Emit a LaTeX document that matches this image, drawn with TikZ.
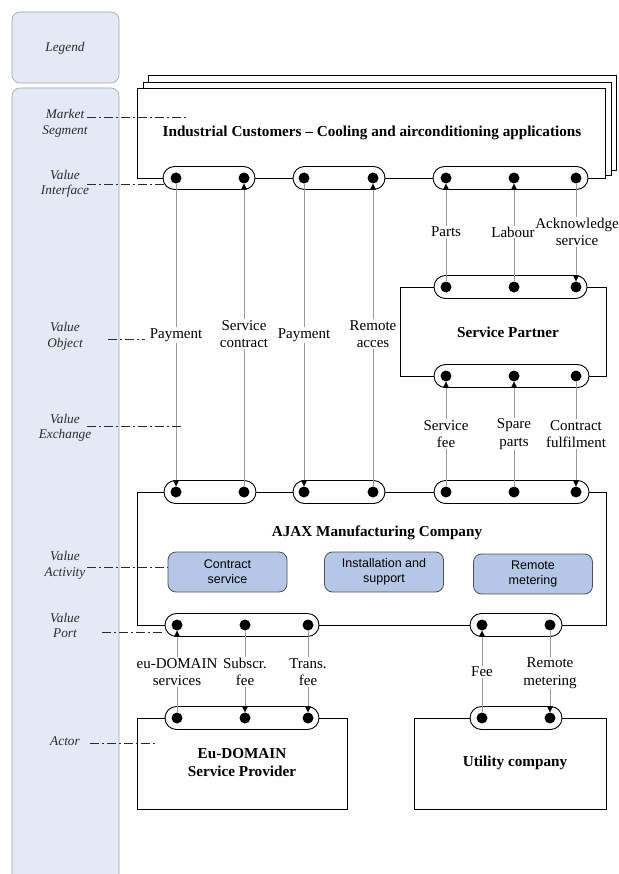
\documentclass[tikz,border=0pt]{standalone}
\usepackage{fontspec}
\setmainfont{Liberation Serif}
\newfontfamily\arialf{Liberation Sans}
\usetikzlibrary{arrows.meta}
\definecolor{legfill}{HTML}{E3EAF5}
\definecolor{legdraw}{HTML}{9AA4B2}
\definecolor{actfill}{HTML}{B4C7E6}
\definecolor{actdraw}{HTML}{505050}
\definecolor{flowgray}{HTML}{9A9A9A}
\definecolor{legtext}{HTML}{2A2A2A}
\begin{document}
\begin{tikzpicture}[x=1pt,y=-1pt,
  actor/.style={draw=black,line width=0.9pt,fill=white,inner sep=0pt},
  pill/.style={draw=black,line width=0.9pt,fill=white,rounded corners=11.5pt},
  port/.style={circle,fill=black,minimum size=11pt,inner sep=0pt},
  flow/.style={draw=flowgray,line width=0.7pt,-{Triangle[length=6pt,width=6pt,color=black]}},
  lbl/.style={fill=white,inner xsep=0pt,inner ysep=1pt,align=center,font=\fontsize{15}{17.5}\selectfont},
  title/.style={align=center,font=\fontsize{15.2}{18}\selectfont\bfseries},
  legbox/.style={draw=legdraw,fill=legfill,rounded corners=8pt,line width=0.6pt},
  legtxt/.style={align=center,text=legtext,font=\fontsize{13.3}{15.5}\selectfont\itshape},
  legline/.style={draw=legtext,line width=0.8pt,dash pattern=on 9pt off 3pt on 2pt off 3pt},
  activity/.style={draw=actdraw,fill=actfill,rounded corners=8pt,line width=0.8pt,align=center,font=\arialf\fontsize{12.5}{15}\selectfont,minimum width=119pt,minimum height=40pt,inner sep=0pt}
]
\useasboundingbox (0,0) rectangle (618,874);

% legend column
\draw[legbox] (12,12) rectangle (119,83);
\draw[legbox] (12,88) rectangle (119,890);
\node[legtxt] (lg) at (65,48) {Legend};

% industrial customers (stacked)
\node[actor,minimum width=468pt,minimum height=95pt] (cust3) at (382,122.5) {};
\node[actor,minimum width=468pt,minimum height=93pt] (cust2) at (377,128.5) {};
\node[actor,minimum width=468pt,minimum height=90pt] (cust) at (371,133) {};
\node[title] (custt) at (372,133) {Industrial Customers -- Cooling and airconditioning applications};

% other actors
\node[actor,minimum width=206pt,minimum height=89pt] (sp) at (503,331.5) {};
\node[title] (spt) at (508,332) {Service Partner};
\node[actor,minimum width=469pt,minimum height=133pt] (ajax) at (371.5,558.5) {};
\node[title] (ajaxt) at (377,533) {AJAX Manufacturing Company};
\node[actor,minimum width=210pt,minimum height=91pt] (eu) at (242,763.5) {};
\node[title] (eut) at (242,763) {Eu-DOMAIN\\Service Provider};
\node[actor,minimum width=192pt,minimum height=91pt] (ut) at (510,763.5) {};
\node[title] (utt) at (515,763) {Utility company};

% value activities
\node[activity] (va1) at (227.5,572) {Contract\\service};
\node[activity] (va2) at (384,572) {Installation and\\support};
\node[activity] (va3) at (533,574) {Remote\\metering};

% value interfaces (pills)
\draw[pill] (163,166.5) rectangle (255,189.5);
\draw[pill] (293,166.5) rectangle (385,189.5);
\draw[pill] (433,166.5) rectangle (588,189.5);
\draw[pill] (434,275.5) rectangle (587,298.5);
\draw[pill] (434,364.5) rectangle (589,387.5);
\draw[pill] (164,480.5) rectangle (256,503.5);
\draw[pill] (293,480.5) rectangle (385,503.5);
\draw[pill] (434,480.5) rectangle (589,503.5);
\draw[pill] (165,613.5) rectangle (319,636.5);
\draw[pill] (470,613.5) rectangle (562,636.5);
\draw[pill] (165,706.5) rectangle (319,729.5);
\draw[pill] (470,706.5) rectangle (562,729.5);

% value ports
\foreach \n/\x/\y in {c1/176/178,c2/244/178,c3/304/178,c4/373/178,c5/446/178,c6/514/178,c7/576/178,
  s1/446/287,s2/514/287,s3/576/287,s4/446/376,s5/514/376,s6/576/376,
  a1/176/492,a2/244/492,a3/304/492,a4/373/492,a5/446/492,a6/514/492,a7/576/492,
  a8/177/625,a9/245/625,a10/308/625,a11/482/625,a12/550/625,
  e1/177/718,e2/245/718,e3/308/718,u1/482/718,u2/550/718}
  \node[port] (\n) at (\x,\y) {};

% value exchanges
\draw[flow] (c1) -- (a1);
\draw[flow] (a2) -- (c2);
\draw[flow] (c3) -- (a3);
\draw[flow] (a4) -- (c4);
\draw[flow] (s1) -- (c5);
\draw[flow] (s2) -- (c6);
\draw[flow] (c7) -- (s3);
\draw[flow] (a5) -- (s4);
\draw[flow] (a6) -- (s5);
\draw[flow] (s6) -- (a7);
\draw[flow] (e1) -- (a8);
\draw[flow] (a9) -- (e2);
\draw[flow] (a10) -- (e3);
\draw[flow] (u1) -- (a11);
\draw[flow] (a12) -- (u2);

% value objects
\node[lbl] (o1) at (176,335) {Payment};
\node[lbl] (o2) at (244,334) {Service\\contract};
\node[lbl] (o3) at (304,335) {Payment};
\node[lbl] (o4) at (373,334) {Remote\\acces};
\node[lbl] (o5) at (446,232) {Parts};
\node[lbl] (o7) at (577,232) {Acknowledge\\service};
\node[lbl] (o6) at (513,232) {Labour};
\node[lbl] (o8) at (446,434) {Service\\fee};
\node[lbl] (o9) at (514,434) {Spare\\parts};
\node[lbl] (o10) at (576,434) {Contract\\fulfilment};
\node[lbl] (o11) at (177,672) {eu-DOMAIN\\services};
\node[lbl] (o12) at (245,672) {Subscr.\\fee};
\node[lbl] (o13) at (308,672) {Trans.\\fee};
\node[lbl] (o14) at (482,672) {Fee};
\node[lbl] (o15) at (550,673) {Remote\\metering};

% legend entries
\node[legtxt] (l1) at (65,123.5) {Market\\Segment};
\node[legtxt] (l2) at (65,184) {Value\\Interface};
\node[legtxt] (l3) at (65,336.5) {Value\\Object};
\node[legtxt] (l4) at (65,428) {Value\\Exchange};
\node[legtxt] (l5) at (65,565.5) {Value\\Activity};
\node[legtxt] (l6) at (65,625.5) {Value\\Port};
\node[legtxt] (l7) at (65,741) {Actor};
\coordinate (m1a) at (87,117);  \coordinate (m1b) at (187,117);
\coordinate (m2a) at (87,184);  \coordinate (m2b) at (165,184);
\coordinate (m3a) at (108,339); \coordinate (m3b) at (145,339);
\coordinate (m4a) at (87,426);  \coordinate (m4b) at (183,426);
\coordinate (m5a) at (87,567);  \coordinate (m5b) at (168,567);
\coordinate (m6a) at (102,632); \coordinate (m6b) at (165,632);
\coordinate (m7a) at (90,743);  \coordinate (m7b) at (157,743);
\foreach \i in {1,...,7} \draw[legline] (m\i a) -- (m\i b);
\end{tikzpicture}
\end{document}
